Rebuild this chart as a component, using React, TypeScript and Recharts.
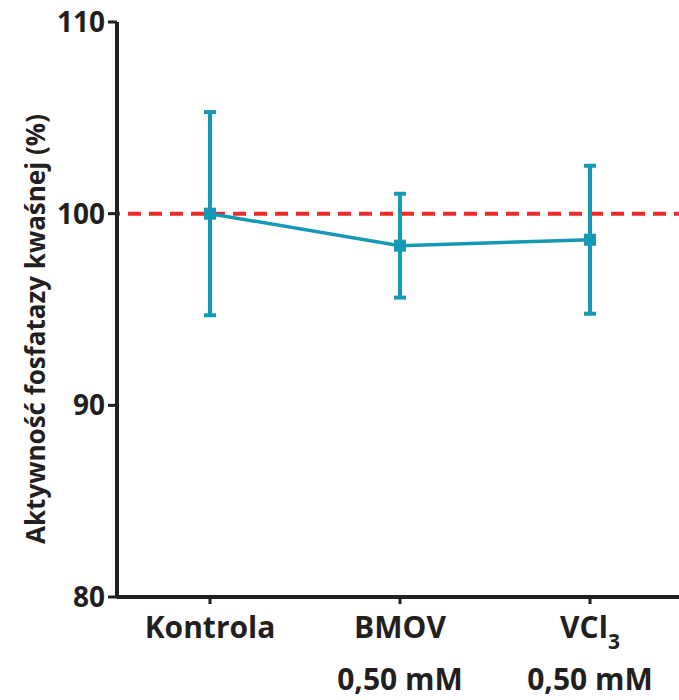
import React from 'react';
import {
  LineChart,
  Line,
  XAxis,
  YAxis,
  ErrorBar,
  ReferenceLine,
  Label,
} from 'recharts';

const categories = ['Kontrola', 'BMOV', 'VCl3'];
const means = [100, 98.33, 98.64];
const sds = [5.3, 2.71, 3.86];
const yTicks = [80, 90, 100, 110];

const data = categories.map((c, i) => ({ name: c, value: means[i], sd: sds[i] }));

const BLUE = '#1599b4';
const RED = '#ee2a2a';
const INK = '#231f20';
const FONT = '"Open Sans", sans-serif';

const XTick = (props: any) => {
  const { x, y, payload } = props;
  const name: string = payload.value;
  return (
    <g transform={`translate(${x},${y})`}>
      <text
        x={0}
        y={32}
        textAnchor="middle"
        fontFamily={FONT}
        fontWeight={700}
        fontSize={30}
        fill={INK}
      >
        {name === 'VCl3' ? (
          <>
            <tspan>VCl</tspan>
            <tspan fontSize={21} dy={11}>3</tspan>
          </>
        ) : (
          name
        )}
      </text>
      {name !== 'Kontrola' && (
        <text
          x={0}
          y={84}
          textAnchor="middle"
          fontFamily={FONT}
          fontWeight={700}
          fontSize={30}
          fill={INK}
        >
          0,50 mM
        </text>
      )}
    </g>
  );
};

const SquareDot = (props: any) => {
  const { cx, cy } = props;
  if (cx == null || cy == null) return null;
  return <rect x={cx - 6} y={cy - 6} width={12} height={12} fill={BLUE} />;
};

export default function App() {
  return (
    <div style={{ position: 'absolute', left: 0, top: 0, width: 679, height: 700, background: '#fff' }}>
      <LineChart
        width={679}
        height={700}
        data={data}
        margin={{ top: 22, right: 0, bottom: 0, left: 0 }}
      >
        <XAxis
          dataKey="name"
          padding={{ left: 93, right: 89 }}
          axisLine={{ stroke: INK, strokeWidth: 4 }}
          tickLine={{ stroke: INK, strokeWidth: 3 }}
          tickSize={7}
          tick={<XTick />}
          interval={0}
          height={103}
        />
        <YAxis
          domain={[80, 110]}
          ticks={yTicks}
          width={117}
          axisLine={{ stroke: INK, strokeWidth: 4 }}
          tickLine={{ stroke: INK, strokeWidth: 3 }}
          tickSize={9}
          tickMargin={3}
          tick={{ fill: INK, fontSize: 28, fontWeight: 700, fontFamily: FONT }}
          allowDataOverflow
        >
          <Label
            content={() => (
              <text
                x={45}
                y={329}
                transform="rotate(-90 45 329)"
                textAnchor="middle"
                fontFamily={FONT}
                fontWeight={700}
                fontSize={26}
                fill={INK}
              >
                Aktywność fosfatazy kwaśnej (%)
              </text>
            )}
          />
        </YAxis>
        <ReferenceLine
          y={100}
          stroke={RED}
          strokeWidth={4}
          strokeDasharray="13 8"
          strokeDashoffset={-11}
        />
        <Line
          dataKey="value"
          stroke={BLUE}
          strokeWidth={3.5}
          dot={<SquareDot />}
          activeDot={false}
          isAnimationActive={false}
        >
          <ErrorBar dataKey="sd" direction="y" width={6} strokeWidth={4} stroke={BLUE} isAnimationActive={false} />
        </Line>
      </LineChart>
    </div>
  );
}
